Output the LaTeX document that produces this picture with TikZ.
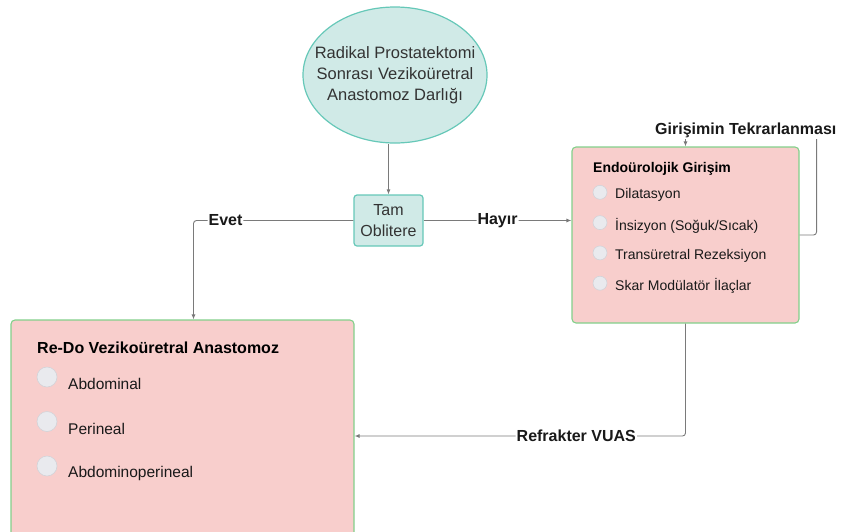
\documentclass[tikz,border=0pt]{standalone}
\usepackage{fontspec}
\setmainfont{Liberation Sans}
\usepackage{xcolor}
\usepackage{tikz}
\usetikzlibrary{
  arrows.meta,
  positioning,
  shapes.geometric
}
\definecolor{tealfill}{HTML}{D0EAE7}
\definecolor{tealline}{HTML}{66C8B8}
\definecolor{pinkfill}{HTML}{F8CECC}
\definecolor{greenline}{HTML}{82D08A}
\definecolor{radiofill}{HTML}{E9EAEE}
\definecolor{radioline}{HTML}{D2D3D8}
\definecolor{connline}{HTML}{7A7A7A}
\definecolor{darktext}{HTML}{333333}

\begin{document}
\begin{tikzpicture}[x=1pt, y=-1pt,
    startnode/.style={ellipse, draw=tealline, fill=tealfill, line width=1.2pt, minimum width=184pt, minimum height=136pt, inner xsep=-20pt, inner ysep=0pt, align=center, text=darktext, font=\fontsize{16.5}{21}\selectfont},
    decbox/.style={rectangle, rounded corners=3pt, draw=tealline, fill=tealfill, line width=1.2pt, minimum width=69pt, minimum height=51pt, inner sep=0pt, align=center, text=darktext, font=\fontsize{16}{21}\selectfont},
    pinkbox/.style={rectangle, rounded corners=4pt, draw=greenline, fill=pinkfill, line width=1.1pt, inner sep=0pt},
    boxtitle/.style={anchor=west, inner sep=0pt, font=\bfseries\fontsize{14}{16}\selectfont},
    radio/.style={circle, draw=radioline, fill=radiofill, line width=0.6pt, inner sep=0pt},
    item/.style={anchor=west, inner sep=0pt, text=black!90, font=\fontsize{14}{16}\selectfont},
    conn/.style={draw=connline, line width=0.9pt, rounded corners=3pt},
    arr/.style={-{Latex[length=5pt, width=4pt]}},
    lbl/.style={fill=white, inner sep=1pt, text=black!90, font=\bfseries\fontsize{16}{18}\selectfont}]
\useasboundingbox (0,0) rectangle (848,531);
\clip (0,0) rectangle (848,531);

\node[startnode] (start) at (395,75) {Radikal Prostatektomi\\Sonrası Vezikoüretral\\Anastomoz Darlığı};
\node[decbox] (tam) at (388.5,220.5) {Tam\\Oblitere};

\node[pinkbox, minimum width=227pt, minimum height=176pt] (endo) at (685.5,235) {};
\node[boxtitle] (endotitle) at (593,169) {Endoürolojik Girişim};
\foreach \txt [count=\i] in {Dilatasyon, İnsizyon (Soğuk/Sıcak), Transüretral Rezeksiyon, Skar Modülatör İlaçlar} {
  \node[radio, minimum size=14pt] (eradio\i) at (600,{162+30.3*\i}) {};
  \node[item] (eitem\i) at (615,{165+30.3*\i}) {\txt};
}

\node[pinkbox, minimum width=343pt, minimum height=232pt] (redo) at (182.5,436) {};
\node[boxtitle, font=\bfseries\fontsize{16}{18}\selectfont] (redotitle) at (37,348) {Re-Do Vezikoüretral Anastomoz};
\foreach \txt [count=\i] in {Abdominal, Perineal, Abdominoperineal} {
  \node[radio, minimum size=20pt] (rradio\i) at (47,{332.5+44.5*\i}) {};
  \node[item, font=\fontsize{15.5}{18}\selectfont] (ritem\i) at (68,{339.5+44.5*\i}) {\txt};
}

\draw[conn, arr] (tam.north |- start.south) -- (tam.north);
\draw[conn, arr] (tam.west) -| ([xshift=11pt]redo.north) node[lbl, pos=0.4] (evet) {Evet};
\draw[conn, arr] (tam.east) -- (tam.east -| endo.west) node[lbl, pos=0.5] (hayir) {Hayır};
\draw[conn, arr] (endo.south) |- (redo.east) node[lbl, pos=0.665] (refrakter) {Refrakter VUAS};
\draw[conn, arr] (endo.east) -- ++(17,0) |- ([yshift=17pt]endo.north)
  node[lbl, pos=0.77, yshift=-1pt] (tekrar) {Girişimin Tekrarlanması} -- (endo.north);
\end{tikzpicture}
\end{document}
